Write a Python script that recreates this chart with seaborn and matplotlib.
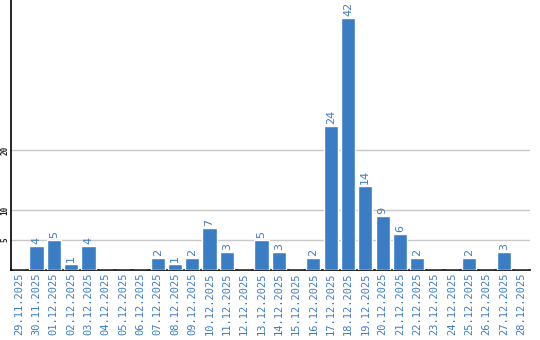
import matplotlib
matplotlib.use("Agg")
import matplotlib.pyplot as plt
import seaborn as sns
import pandas as pd

dates = ["29.11.2025", "30.11.2025", "01.12.2025", "02.12.2025", "03.12.2025",
         "04.12.2025", "05.12.2025", "06.12.2025", "07.12.2025", "08.12.2025",
         "09.12.2025", "10.12.2025", "11.12.2025", "12.12.2025", "13.12.2025",
         "14.12.2025", "15.12.2025", "16.12.2025", "17.12.2025", "18.12.2025",
         "19.12.2025", "20.12.2025", "21.12.2025", "22.12.2025", "23.12.2025",
         "24.12.2025", "25.12.2025", "26.12.2025", "27.12.2025", "28.12.2025"]
counts = [0, 4, 5, 1, 4, 0, 0, 0, 2, 1, 2, 7, 3, 0, 5, 3, 0, 2, 24, 42,
          14, 9, 6, 2, 0, 0, 2, 0, 3, 0]
yticks = [5, 10, 20]

df = pd.DataFrame({"date": dates, "count": counts})
color = "#3b7dc4"

sns.set_style("white")
fig = plt.figure(figsize=(5.4, 3.4), dpi=100)
ax = fig.add_axes([0.0195, 0.206, 0.9615, 0.794])

sns.barplot(data=df, x="date", y="count", color=color, saturation=1,
            width=0.82, ax=ax, zorder=3)

ax.set_ylim(0, 45)
ax.set_yticks(yticks)
ax.set_yticklabels([str(v) for v in yticks], rotation=90, fontsize=5.5,
                   fontweight="bold", va="center", family="DejaVu Sans Mono")
ax.grid(axis="y", color="#c8c8c8", linewidth=1, zorder=0)
ax.set_axisbelow(True)
ax.tick_params(axis="y", length=0, pad=1)
ax.tick_params(axis="x", length=0, pad=2)
ax.set_xticks(range(len(dates)))
ax.set_xticklabels(dates, rotation=90, fontsize=7.5, color=color,
                   family="DejaVu Sans Mono")
ax.set_xlabel("")
ax.set_ylabel("")

for s in ["top", "right"]:
    ax.spines[s].set_visible(False)
for s in ["left", "bottom"]:
    ax.spines[s].set_color("black")
    ax.spines[s].set_linewidth(1.2)

for i, v in enumerate(counts):
    if v > 0:
        ax.text(i, v + 0.4, str(v), rotation=90, ha="center", va="bottom",
                fontsize=8, color=color)

fig.savefig("out.png", dpi=100)
